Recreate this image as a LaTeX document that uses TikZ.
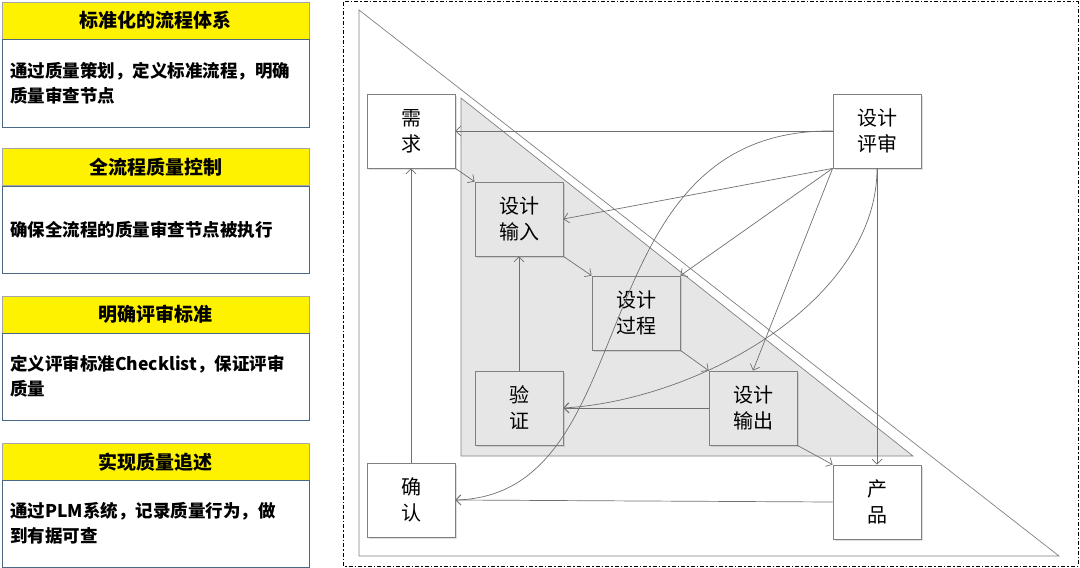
\documentclass[tikz,border=0pt]{standalone}
\usepackage{fontspec}
\setmainfont{Noto Sans CJK SC}
\usetikzlibrary{arrows.meta,shadows}

\definecolor{panelgray}{HTML}{E6E6E6}
\definecolor{linegray}{HTML}{707070}
\definecolor{bodyblue}{HTML}{4A6784}

\begin{document}
\begin{tikzpicture}[x=1pt,y=-1pt,
  head/.style={draw=gray!70,fill=yellow,minimum width=307,minimum height=37,anchor=north west,
    font=\fontsize{19}{22}\selectfont\bfseries},
  body/.style={draw=bodyblue,fill=white,minimum width=307,anchor=north west,text width=291,
    inner xsep=8,align=left,font=\fontsize{17.5}{25}\selectfont\bfseries},
  box/.style={draw=gray,line width=0.8pt,minimum width=88,minimum height=74,align=center,
    font=\fontsize{20}{26}\selectfont,drop shadow={opacity=0.25,shadow xshift=1.5pt,shadow yshift=-1.5pt}},
  link/.style={draw=linegray,line width=0.7pt,-{Straight Barb[length=5pt,width=10pt]}}]
\useasboundingbox (0,0) rectangle (1080,568);

% left panel
\node[head] (h1) at (2,2) {标准化的流程体系};
\node[body,minimum height=88] (b1) at (2,39) {通过质量策划，定义标准流程，明确\\质量审查节点};
\node[head] (h2) at (2,148) {全流程质量控制};
\node[body,minimum height=87] (b2) at (2,186) {确保全流程的质量审查节点被执行};
\node[head] (h3) at (2,296) {明确评审标准};
\node[body,minimum height=87] (b3) at (2,333) {定义评审标准Checklist，保证评审\\质量};
\node[head] (h4) at (2,443) {实现质量追述};
\node[body,minimum height=87] (b4) at (2,480) {通过PLM系统，记录质量行为，做\\到有据可查};

% frame and triangles
\draw[line width=1pt,dash pattern=on 4pt off 2pt on 1.5pt off 2pt] (343,1.5) rectangle (1078,566);
\draw[gray,line width=0.7pt] (359,10) -- (359,556) -- (1059,556) -- cycle;
\draw[gray,line width=0.7pt,fill=panelgray] (461,98) -- (461,456) -- (913,456) -- cycle;

% steps
\node[box,fill=white] (req) at (411,131) {需\\求};
\node[box,fill=panelgray] (din) at (519,219) {设计\\输入};
\node[box,fill=panelgray] (dproc) at (636,313) {设计\\过程};
\node[box,fill=panelgray] (ver) at (519,408) {验\\证};
\node[box,fill=panelgray] (dout) at (753,408) {设计\\输出};
\node[box,fill=white] (val) at (411,500) {确\\认};
\node[box,fill=white] (prod) at (877,502) {产\\品};
\node[box,fill=white] (rev) at (877,131) {设计\\评审};

\draw[link] (rev.west) -- (req.east);
\draw[link] (req.south east) -- (din.north west);
\draw[link] (din.south east) -- (dproc.north west);
\draw[link] (dproc.south east) -- (dout.north west);
\draw[link] (dout.south east) -- (prod.north west);
\draw[link] (rev.south west) -- (din.east);
\draw[link] (rev.south west) -- (dproc.north east);
\draw[link] (rev.south west) -- (dout.north);
\draw[link] (rev.south) -- (prod.north);
\draw[link] (ver.north) -- (din.south);
\draw[link] (val.north) -- (req.south);
\draw[link] (prod.west) -- (val.east);
\draw[link] (dout.west) -- (ver.east);
\draw[link] (rev.south) .. controls (877,300) and (700,400) .. (ver.east);
\draw[link] (rev.west) .. controls (575,128) and (650,495) .. (val.east);
\end{tikzpicture}
\end{document}
